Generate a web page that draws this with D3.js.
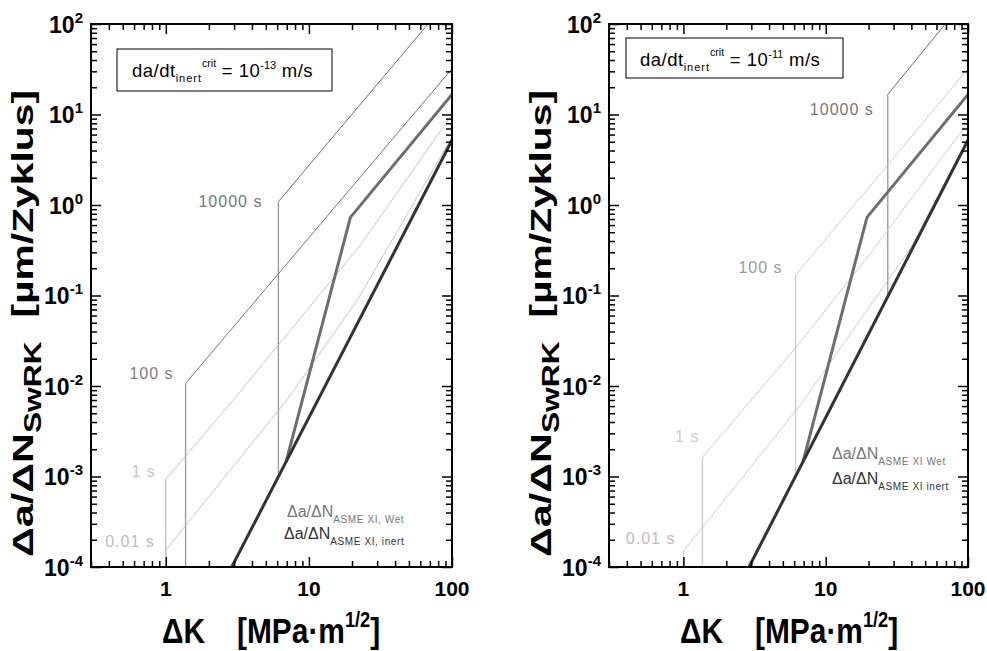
<!DOCTYPE html>
<html>
<head>
<meta charset="utf-8">
<script src="https://cdn.jsdelivr.net/npm/d3@7"></script>
<style>
  body { margin: 0; background: #fff; }
  svg { display: block; }
  text { font-family: "Liberation Sans", Arial, sans-serif; }
</style>
</head>
<body>
<div id="chart"></div>
<script>
// ---- data ----
const xTickVals = [1, 10, 100];
const xTickLabels = ["1", "10", "100"];
const yTickVals = [1e-4, 1e-3, 1e-2, 1e-1, 1, 10, 100];
const yTickExp = ["-4", "-3", "-2", "-1", "0", "1", "2"];

const critExp = ["-13", "-11"];
const timeLabels = ["10000 s", "100 s", "1 s", "0.01 s"];

// ASME XI curves [ΔK, da/dN]
const inertCurve = [[2.89, 1e-4], [100, 5.2]];
const wetCurve = [[6.93, 1.46e-3], [19.5, 0.73], [100, 16.7]];

// rise-time curves, da/dt crit = 1e-13 m/s
const curvesLeft = [
  [[6.12, 1.1e-3], [6.12, 1.09], [68, 100]],
  [[1.374, 1e-4], [1.374, 0.0107], [100, 32]],
  [[1, 1e-4], [1, 9.3e-4], [2.96, 7.0e-3], [22.9, 0.361], [100, 9.9]],
  [[1, 1e-4], [1, 1.54e-4], [7.01, 7.0e-3], [21.8, 0.089], [100, 5.64]]
];
// rise-time curves, da/dt crit = 1e-11 m/s
const curvesRight = [
  [[27.3, 0.1], [27.3, 16.7], [69.3, 100]],
  [[6.14, 1.1e-3], [6.14, 0.168], [100, 32]],
  [[1.36, 1e-4], [1.36, 1.63e-3], [5.97, 0.025], [19.5, 0.26], [100, 8.1]],
  [[1, 1e-4], [1, 1.5e-4], [6.65, 6.2e-3], [39.4, 0.33], [100, 5.5]]
];
const legendSub = [["ASME XI, Wet", "ASME XI, inert"], ["ASME XI Wet", "ASME XI inert"]];

// ---- layout ----
const W = 987, H = 651;
const svg = d3.select("#chart").append("svg").attr("width", W).attr("height", H);

function rich(sel, x, y, parts, fill, weight, anchor) {
  const t = sel.append("text").attr("x", x).attr("y", y)
    .attr("fill", fill).attr("font-weight", weight || "normal")
    .attr("text-anchor", anchor || "start");
  let prev = 0;
  parts.forEach(p => {
    const sh = p.sh || 0;
    t.append("tspan").attr("font-size", p.s).attr("dy", sh - prev)
      .attr("letter-spacing", p.ls || 0).text(p.t);
    prev = sh;
  });
  return t;
}

const panels = [
  { x0: 91, x1: 452, curves: curvesLeft,
    diag: ["#707070", "#787878", "#c6c6c6", "#c6c6c6"],
    vert: ["#9c9c9c", "#9c9c9c", "#c6c6c6", "#c6c6c6"],
    lab: ["#777", "#808080", "#c6c6c6", "#bdbdbd"],
    labOff: [[-16, 0], [-12, -10], [-10, -8], [-11, -9]],
    box: [117, 49, 215, 42], boxText: [132, 77],
    leg: [[287, 517], [284, 539]] },
  { x0: 609, x1: 968, curves: curvesRight,
    diag: ["#707070", "#cdcdcd", "#cdcdcd", "#cdcdcd"],
    vert: ["#9c9c9c", "#cdcdcd", "#cdcdcd", "#cdcdcd"],
    lab: ["#777", "#9a9a9a", "#cdcdcd", "#bdbdbd"],
    labOff: [[-14, 15], [-13, -8], [-3, -21], [-8, -13]],
    box: [626, 38, 217, 40], boxText: [640, 66],
    leg: [[832, 459], [832, 484]] }
];

const yTop = 24, yBot = 567;

panels.forEach((p, i) => {
  const x = d3.scaleLog().domain([0.3, 100]).range([p.x0, p.x1]);
  const y = d3.scaleLog().domain([1e-4, 100]).range([yBot, yTop]);
  const g = svg.append("g");
  const clipId = "clip" + i;
  svg.append("clipPath").attr("id", clipId).append("rect")
    .attr("x", p.x0).attr("y", yTop).attr("width", p.x1 - p.x0).attr("height", yBot - yTop);

  const line = d3.line().x(d => x(d[0])).y(d => y(d[1]));
  const plot = g.append("g").attr("clip-path", `url(#${clipId})`);

  // rise-time curves: vertical foot + sloped part
  p.curves.forEach((c, j) => {
    plot.append("path").attr("d", line(c.slice(1))).attr("fill", "none")
      .attr("stroke", p.diag[j]).attr("stroke-width", 1);
    plot.append("path").attr("d", line(c.slice(0, 2))).attr("fill", "none")
      .attr("stroke", p.vert[j]).attr("stroke-width", 1.4);
    const top = c[1];
    g.append("text").attr("x", x(top[0]) + p.labOff[j][0]).attr("y", y(top[1]) + p.labOff[j][1] + 5.5)
      .attr("text-anchor", "end").attr("font-size", 16).attr("letter-spacing", 1)
      .attr("fill", p.lab[j]).text(timeLabels[j]);
  });

  plot.append("path").attr("d", line(wetCurve)).attr("fill", "none")
    .attr("stroke", "#6e6e6e").attr("stroke-width", 3);
  plot.append("path").attr("d", line(inertCurve)).attr("fill", "none")
    .attr("stroke", "#333").attr("stroke-width", 3);

  // ticks: inward on all four sides
  const xMinor = x.ticks().filter(v => !xTickVals.includes(v));
  const yMinor = y.ticks().filter(v => !yTickVals.includes(v));
  const axes = [
    [d3.axisBottom(x), `translate(0,${yBot})`, xMinor, xTickVals],
    [d3.axisTop(x), `translate(0,${yTop})`, xMinor, xTickVals],
    [d3.axisLeft(y), `translate(${p.x0},0)`, yMinor, yTickVals],
    [d3.axisRight(y), `translate(${p.x1},0)`, yMinor, yTickVals]
  ];
  axes.forEach(([ax, tr, minor, major]) => {
    g.append("g").attr("transform", tr)
      .call(ax.tickValues(minor).tickSizeInner(-6).tickSizeOuter(0).tickFormat(""))
      .call(s => s.select(".domain").remove())
      .call(s => s.selectAll("line").attr("stroke", "#000").attr("stroke-width", 1.5));
    g.append("g").attr("transform", tr)
      .call(ax.tickValues(major).tickSizeInner(-10).tickSizeOuter(0).tickFormat(""))
      .call(s => s.select(".domain").remove())
      .call(s => s.selectAll("line").attr("stroke", "#000").attr("stroke-width", 1.5));
  });
  g.append("rect").attr("x", p.x0).attr("y", yTop).attr("width", p.x1 - p.x0)
    .attr("height", yBot - yTop).attr("fill", "none").attr("stroke", "#000").attr("stroke-width", 2);

  // tick labels
  xTickVals.forEach((v, k) => {
    g.append("text").attr("x", x(v)).attr("y", 596).attr("text-anchor", "middle")
      .attr("font-size", 21).attr("font-weight", "bold").text(xTickLabels[k]);
  });
  yTickVals.forEach((v, k) => {
    rich(g, p.x0 - 8, y(v) + 8.5, [{ t: "10", s: 23 }, { t: yTickExp[k], s: 15, sh: -10 }], "#000", "bold", "end");
  });

  // axis titles (glyphs are condensed horizontally in the original)
  g.append("g").attr("transform", `translate(${p.x0 + 71},643) scale(0.83,1)`)
    .append("text").attr("font-size", 36).attr("font-weight", "bold").text("\u0394K");
  rich(g.append("g").attr("transform", `translate(${p.x0 + 146},643) scale(0.83,1)`), 0, 0,
    [{ t: "[MPa\u00b7m", s: 36 }, { t: "1/2", s: 22, sh: -16 }, { t: "]", s: 36 }], "#000", "bold");

  const yt1 = g.append("g").attr("transform", `translate(${p.x0 - 58},557) rotate(-90) scale(1.38,1)`);
  rich(yt1, 0, 0, [{ t: "\u0394a/\u0394N", s: 30 }, { t: "SwRK", s: 23, sh: 8 }], "#000", "bold");
  const yt2 = g.append("g").attr("transform", `translate(${p.x0 - 58},90) rotate(-90) scale(1.36,1)`);
  rich(yt2, 0, 0, [{ t: "[\u00b5m/Zyklus]", s: 30 }], "#000", "bold", "end");

  // crit rate box
  g.append("rect").attr("x", p.box[0]).attr("y", p.box[1]).attr("width", p.box[2]).attr("height", p.box[3])
    .attr("fill", "#fff").attr("stroke", "#000").attr("stroke-width", 1);
  rich(g, p.boxText[0], p.boxText[1], [
    { t: "da/dt", s: 18.5, ls: 0.5 }, { t: "inert", s: 11, sh: 5, ls: 1 }, { t: "crit", s: 10.5, sh: -10 },
    { t: " = 10", s: 18.5, ls: 0.5 }, { t: critExp[i], s: 11, sh: -8 }, { t: " m/s", s: 18.5, ls: 0.5 }
  ], "#000");

  // legend labels
  rich(g, p.leg[0][0], p.leg[0][1], [{ t: "\u0394a/\u0394N", s: 16 }, { t: legendSub[i][0], s: 10, sh: 6, ls: 0.6 }], "#777");
  rich(g, p.leg[1][0], p.leg[1][1], [{ t: "\u0394a/\u0394N", s: 16 }, { t: legendSub[i][1], s: 10, sh: 6, ls: 0.6 }], "#333");
});
</script>
</body>
</html>
